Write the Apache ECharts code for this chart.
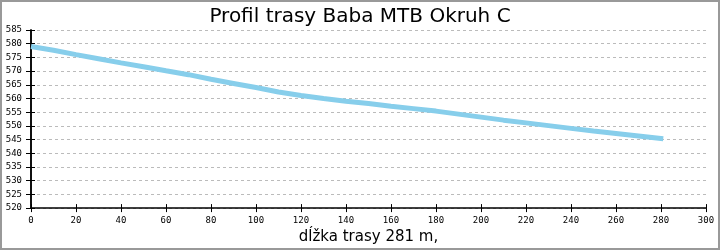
<!DOCTYPE html>
<html><head><meta charset="utf-8">
<script src="https://cdn.jsdelivr.net/npm/echarts@6/dist/echarts.min.js"></script>
<style>
html,body{margin:0;padding:0;background:#fff;}
#c{position:absolute;left:0;top:0;width:720px;height:250px;}
#b{position:absolute;left:0;top:0;width:716px;height:246px;border:2px solid #999;pointer-events:none;}
</style></head><body>
<div id="c"></div><div id="b"></div>
<script>
const titleText = 'Profil trasy Baba MTB Okruh C';
const xAxisTitle = 'dĺžka trasy 281 m,';
const distances = [0,10,20,30,40,50,60,70,80,90,100,110,120,130,140,150,160,170,180,190,200,210,220,230,240,250,260,270,281];
const elevations = [579.0,577.6,576.0,574.5,573.0,571.6,570.1,568.7,567.0,565.5,564.0,562.4,561.1,560.0,559.0,558.2,557.2,556.3,555.4,554.3,553.2,552.1,551.1,550.1,549.1,548.1,547.2,546.3,545.3];
const xTicks = {min:0, max:300, interval:20};
const yTicks = {min:520, max:585, interval:5};

const lblStyle = {fontFamily:'DejaVu Sans Mono', fontSize:9, color:'#000'};
const chart = echarts.init(document.getElementById('c'), null, {renderer:'canvas'});
chart.setOption({
  animation:false,
  title:{text:titleText, left:'center', top:2, textStyle:{fontFamily:'DejaVu Sans', fontSize:20, fontWeight:'normal', color:'#000'}},
  grid:{left:31, right:14, top:30, bottom:41},
  xAxis:[
    {type:'value', min:xTicks.min, max:xTicks.max, interval:xTicks.interval,
     name:xAxisTitle, nameLocation:'middle', nameGap:20,
     nameTextStyle:{fontFamily:'DejaVu Sans', fontSize:15, color:'#000'},
     axisLine:{onZero:false, lineStyle:{color:'#000', width:1.5}},
     axisTick:{length:4, lineStyle:{color:'#000'}},
     axisLabel:Object.assign({margin:8}, lblStyle),
     splitLine:{show:false}},
    {type:'value', position:'bottom', min:xTicks.min, max:xTicks.max, interval:xTicks.interval,
     axisLine:{show:false}, axisTick:{inside:true, length:4, lineStyle:{color:'#000'}},
     axisLabel:{show:false}, splitLine:{show:false}}
  ],
  yAxis:[
    {type:'value', min:yTicks.min, max:yTicks.max, interval:yTicks.interval,
     axisLine:{show:true, lineStyle:{color:'#000', width:1.5}},
     axisTick:{show:true, length:5, lineStyle:{color:'#000'}},
     axisLabel:Object.assign({margin:9}, lblStyle),
     splitLine:{show:true, lineStyle:{color:'#bbb', type:[3,3], width:1}}},
    {type:'value', position:'right', min:yTicks.min, max:yTicks.max, interval:yTicks.interval,
     axisLine:{show:true, lineStyle:{color:'#000', width:1.5}},
     axisTick:{show:false}, axisLabel:{show:false}, splitLine:{show:false}},
    {type:'value', position:'left', min:yTicks.min, max:yTicks.max, interval:yTicks.interval,
     axisLine:{show:false}, axisTick:{show:true, inside:true, length:4, lineStyle:{color:'#000'}},
     axisLabel:{show:false}, splitLine:{show:false}}
  ],
  series:[{type:'line', xAxisIndex:0, yAxisIndex:0, showSymbol:false, symbol:'none',
    lineStyle:{color:'#87CEEB', width:5}, itemStyle:{color:'#87CEEB'},
    data:distances.map((d,i)=>[d, elevations[i]])}]
});
</script></body></html>
